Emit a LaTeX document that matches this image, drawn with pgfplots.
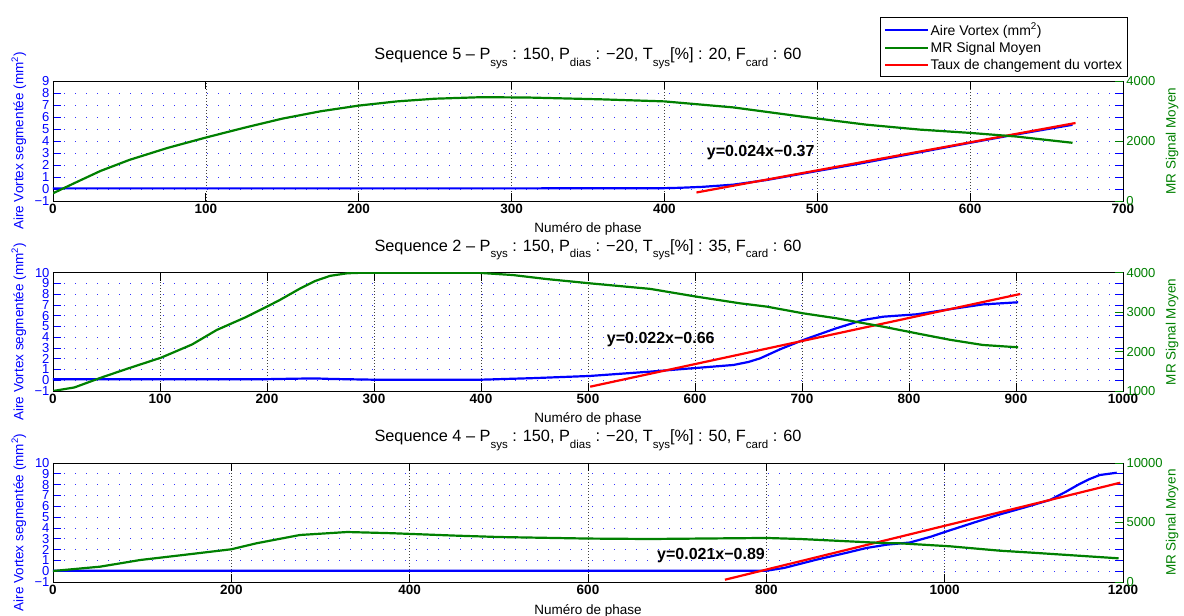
\documentclass[border=0pt]{standalone}
\usepackage{fontspec}
\setmainfont{Liberation Sans}
\usepackage{pgfplots}
\pgfplotsset{compat=1.18}
\definecolor{mblue}{rgb}{0,0,1}
\definecolor{mgreen}{rgb}{0,0.5,0}
\definecolor{mred}{rgb}{1,0,0}
\newcommand{\fs}[1]{\fontsize{#1}{#1}\selectfont}
\newcommand{\sub}[1]{\raisebox{-0.7ex}{\fs{11.5}#1}}
\tikzset{
  bl/.style={mblue, line width=2.2pt},
  gr/.style={mgreen, line width=2.2pt},
  rd/.style={mred, line width=2.2pt},
  ann/.style={font=\fs{16}\bfseries, anchor=center},
}
\pgfplotsset{
  leftax/.style={
    scale only axis, width=1070pt, xmin=0, ymin=-1,
    axis line style={line width=0.8pt},
    tick align=inside, major tick length=8pt,
    xmajorgrids, ymajorgrids,
    x grid style={black!75, line width=0.5pt, dash pattern=on 0.8pt off 2.2pt},
    y grid style={mblue!80, line width=0.7pt, dash pattern=on 1pt off 10pt},
    ytick style={mblue, line width=0.8pt},
    xtick style={black, line width=0.8pt},
    yticklabel style={mblue, font=\fs{13}},
    xticklabel style={font=\fs{13.5}\bfseries},
    ylabel style={mblue, font=\fs{13.5}, at={(axis description cs:-0.032,0.5)}, anchor=center},
    xlabel style={font=\fs{13.5}, at={(axis description cs:0.5,0)}, anchor=base, yshift=-32pt},
    title style={font=\fs{16.3}, at={(axis description cs:0.5,1)}, anchor=base, yshift=15pt},
    xlabel={Numéro de phase},
    ylabel={Aire Vortex segmentée (mm\textsuperscript{2})},
  },
  rightax/.style={
    scale only axis, width=1070pt, xmin=0,
    axis x line=none, axis y line*=right,
    axis line style={line width=0.8pt, black},
    tick align=inside, major tick length=8pt,
    ytick style={mgreen, line width=0.8pt},
    yticklabel style={mgreen, font=\fs{13}},
    scaled y ticks=false,
    ylabel style={mgreen, font=\fs{13.5}, at={(axis description cs:1.046,0.5)}, anchor=center},
    ylabel={MR Signal Moyen},
  },
}
\begin{document}
\begin{tikzpicture}
\path[use as bounding box] (0,0) rectangle (1184pt,616pt);

% ---------------- Panel 1 ----------------
\begin{axis}[leftax, at={(53pt,415pt)}, anchor=south west, height=120pt,
  xmax=700, ymax=9,
  xtick={0,100,200,300,400,500,600,700},
  xticklabels={0,100,200,300,400,500,600,700},
  ytick={-1,0,1,2,3,4,5,6,7,8,9},
  yticklabels={−1,0,1,2,3,4,5,6,7,8,9},
  title={Sequence 5 – P\sub{sys} : 150, P\sub{dias} : −20, T\sub{sys}[\%] : 20, F\sub{card} : 60}]
\addplot[bl] coordinates {(0,0.05) (100,0.05) (200,0.05) (300,0.05) (400,0.07) (410,0.1) (425,0.18) (445,0.36) (467,0.75) (500,1.5) (525,2.05) (550,2.65) (575,3.25) (600,3.85) (625,4.43) (650,4.98) (667,5.35)};
\addplot[rd] coordinates {(421,-0.29) (669,5.5)};
\node[ann] at (axis cs:463,3.0) {y=0.024x−0.37};
\end{axis}
\begin{axis}[rightax, at={(53pt,415pt)}, anchor=south west, height=120pt,
  xmax=700, ymin=0, ymax=4000,
  ytick={0,2000,4000}, yticklabels={0,2000,4000},
  legend style={at={(axis description cs:1.0047,1.533)}, anchor=north east, draw=black, line width=0.6pt, fill=white, font=\fs{14}, inner sep=4pt, row sep=2.5pt, nodes={inner sep=1.6pt}, cells={anchor=west}},
  legend image code/.code={\draw[#1] (0pt,0pt) -- (43pt,0pt);}]
\addlegendimage{bl}
\addlegendentry{Aire Vortex (mm\textsuperscript{2})}
\addplot[gr] coordinates {(0,257) (15,620) (31,1000) (50,1370) (75,1770) (100,2115) (125,2440) (150,2745) (175,2990) (200,3180) (225,3320) (250,3410) (280,3460) (310,3450) (358,3390) (400,3320) (445,3120) (489,2820) (532,2545) (567,2380) (600,2270) (630,2150) (667,1940)};
\addlegendentry{MR Signal Moyen}
\addlegendimage{rd}
\addlegendentry{Taux de changement du vortex}
\end{axis}

% ---------------- Panel 2 ----------------
\begin{axis}[leftax, at={(53pt,225pt)}, anchor=south west, height=118.3pt,
  xmax=1000, ymax=10,
  xtick={0,100,200,300,400,500,600,700,800,900,1000},
  xticklabels={0,100,200,300,400,500,600,700,800,900,1000},
  ytick={-1,0,1,2,3,4,5,6,7,8,9,10},
  yticklabels={−1,0,1,2,3,4,5,6,7,8,9,10},
  title={Sequence 2 – P\sub{sys} : 150, P\sub{dias} : −20, T\sub{sys}[\%] : 35, F\sub{card} : 60}]
\addplot[bl] coordinates {(0,0.1) (100,0.1) (200,0.1) (230,0.15) (245,0.17) (260,0.12) (300,0.05) (400,0.05) (450,0.2) (502,0.4) (558,0.8) (602,1.15) (636,1.42) (650,1.7) (661,2.04) (680,2.9) (701,3.74) (732,4.83) (757,5.6) (776,5.91) (807,6.13) (838,6.6) (869,7.05) (902,7.25)};
\addplot[rd] coordinates {(502,-0.6) (904,8.02)};
\node[ann] at (axis cs:568,3.74) {y=0.022x−0.66};
\end{axis}
\begin{axis}[rightax, at={(53pt,225pt)}, anchor=south west, height=118.3pt,
  xmax=1000, ymin=1000, ymax=4000,
  ytick={1000,2000,3000,4000}, yticklabels={1000,2000,3000,4000}]
\addplot[gr] coordinates {(0,1000) (20,1090) (44,1330) (70,1570) (101,1845) (130,2180) (153,2547) (180,2870) (201,3155) (212,3308) (231,3600) (245,3790) (259,3920) (275,3985) (290,4000) (350,4000) (399,3995) (430,3940) (461,3840) (502,3730) (558,3590) (602,3390) (642,3224) (667,3140) (701,2970) (732,2845) (776,2630) (807,2463) (838,2300) (869,2167) (902,2108)};
\end{axis}

% ---------------- Panel 3 ----------------
\begin{axis}[leftax, at={(53pt,34pt)}, anchor=south west, height=119pt,
  xmax=1200, ymax=10,
  xtick={0,200,400,600,800,1000,1200},
  xticklabels={0,200,400,600,800,1000,1200},
  ytick={-1,0,1,2,3,4,5,6,7,8,9,10},
  yticklabels={−1,0,1,2,3,4,5,6,7,8,9,10},
  title={Sequence 4 – P\sub{sys} : 150, P\sub{dias} : −20, T\sub{sys}[\%] : 50, F\sub{card} : 60}]
\addplot[bl] coordinates {(0,0.04) (400,0.04) (800,0.04) (820,0.3) (856,1.06) (890,1.7) (912,2.14) (935,2.45) (961,2.65) (985,3.2) (1006,3.78) (1035,4.55) (1062,5.25) (1090,5.9) (1118,6.58) (1135,7.3) (1150,8.0) (1162,8.5) (1174,8.89) (1193,9.1)};
\addplot[rd] coordinates {(753.6,-0.79) (1197,8.18)};
\node[ann] at (axis cs:738,1.43) {y=0.021x−0.89};
\end{axis}
\begin{axis}[rightax, at={(53pt,34pt)}, anchor=south west, height=119pt,
  xmax=1200, ymin=0, ymax=10000,
  ytick={0,5000,10000}, yticklabels={0,5000,10000}]
\addplot[gr] coordinates {(0,924) (53,1290) (98,1850) (146,2270) (200,2750) (228,3250) (277,3950) (330,4200) (380,4100) (450,3900) (500,3780) (600,3650) (669,3613) (800,3700) (838,3613) (931,3277) (950,3250) (1006,3000) (1062,2630) (1099,2460) (1195,1990)};
\end{axis}
\end{tikzpicture}
\end{document}
